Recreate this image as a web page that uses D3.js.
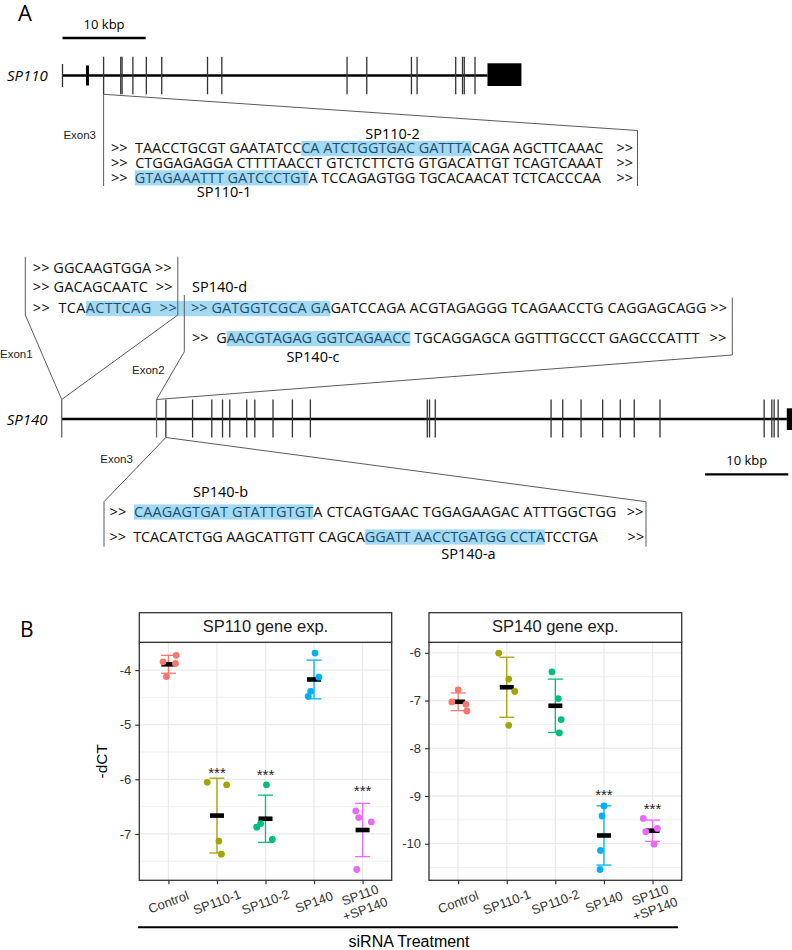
<!DOCTYPE html>
<html><head><meta charset="utf-8">
<script src="https://cdn.jsdelivr.net/npm/d3@7/dist/d3.min.js"></script>
<style>body{margin:0;background:#fff} svg{display:block}</style>
</head><body>
<svg id="fig" width="792" height="950"></svg>
<script>
// ================= DATA =================
// Panel B: qPCR -dCT values, 4 replicates per siRNA treatment
const categories = ["Control", "SP110-1", "SP110-2", "SP140", "SP110+SP140"];
const categoryLabels = [["Control"], ["SP110-1"], ["SP110-2"], ["SP140"], ["SP110", "+SP140"]];
const groupColors = ["#F8766D", "#A3A500", "#00BF7D", "#00B0F6", "#E76BF3"];

const sp110Values = [
  [-3.73, -3.85, -3.88, -4.12],
  [-6.055, -6.10, -7.13, -7.37],
  [-6.10, -6.875, -6.81, -7.10],
  [-3.69, -4.13, -4.39, -4.48],
  [-6.58, -6.70, -6.78, -7.65]
];
const sp110Jitter = [
  [0.16, -0.11, 0.145, -0.04],
  [-0.2, 0.2, 0.04, 0.09],
  [0.02, -0.18, -0.1, 0.14],
  [0.02, 0.1, -0.07, -0.12],
  [-0.14, -0.08, 0.18, -0.12]
];
const sp110Sig = ["", "***", "***", "", "***"];
const sp110SigY = [null, -5.81, -5.86, null, -6.14];
const sp110YTicks = [-7, -6, -5, -4];

const sp140Values = [
  [-6.776, -7.03, -7.08, -7.22],
  [-6.007, -6.55, -6.81, -7.52],
  [-6.40, -6.96, -7.40, -7.68],
  [-9.21, -9.42, -10.14, -10.54],
  [-9.47, -9.68, -9.75, -10.01]
];
const sp140Jitter = [
  [0, -0.13, 0.16, 0.18],
  [-0.165, 0.04, 0.165, 0.04],
  [-0.07, 0.06, 0.12, 0.08],
  [0, -0.04, -0.07, -0.08],
  [-0.19, 0.1, -0.14, 0.03]
];
const sp140Sig = ["", "", "", "***", "***"];
const sp140SigY = [null, null, null, -8.91, -9.19];
const sp140YTicks = [-10, -9, -8, -7, -6];

// Panel A: exon positions (kbp from gene start)
const sp110Exons = [0, 3.0, 4.94, 7.0, 7.16, 8.46, 10.08, 11.93, 17.43, 19.15, 34.2, 36.57, 41.94, 42.62, 47.26, 48.08, 48.29, 49.58];
const sp110LastExon = [51.08, 55.16];
const sp140Exons = [0, 11.40, 12.52, 15.73, 18.04, 19.33, 20.20, 22.24, 23.21, 25.40, 27.73, 29.89, 43.94, 44.21, 44.90, 58.82, 60.22, 62.42, 65.02, 67.14, 68.82, 71.91, 84.43, 85.35, 85.63, 86.11];
const sp140LastExon = [87.15, 88.8];
const scaleBarKbp = 10;

// Sequences ([ ] = siRNA target)
const sp110Seq = [
  ">>  TAACCTGCGT GAATATCC[CA ATCTGGTGAC GATTTA]CAGA AGCTTCAAAC",
  ">>  CTGGAGAGGA CTTTTAACCT GTCTCTTCTG GTGACATTGT TCAGTCAAAT",
  ">>  [GTAGAAATTT GATCCCTGT]A TCCAGAGTGG TGCACAACAT TCTCACCCAA"
];
const sp140Exon1Seq = [">> GGCAAGTGGA >>", ">> GACAGCAATC  >>", ">>  TCA[ACTTCAG  >>]"];
const sp140Exon2Seq = [
  "[>> GATGGTCGCA GA]GATCCAGA ACGTAGAGGG TCAGAACCTG CAGGAGCAGG >>",
  ">>  G[AACGTAGAG GGTCAGAACC] TGCAGGAGCA GGTTTGCCCT GAGCCCATTT"
];
const sp140Exon3Seq = [
  ">>  [CAAGAGTGAT GTATTGTGT]A CTCAGTGAAC TGGAGAAGAC ATTTGGCTGG",
  ">>  TCACATCTGG AAGCATTGTT CAGCA[GGATT AACCTGATGG CCTA]TCCTGA"
];

// ================= DRAWING =================
const svg = d3.select("#fig");
const SEQF = "'Open Sans', 'DejaVu Sans', sans-serif";
const ARF = "'Liberation Sans', Arial, sans-serif";
const HL = "#A3DAF2", HLTEXT = "#1d4f73", CALL = "#5a5a5a";
const SEQSIZE = 14.5;

const bgLayer = svg.append("g");
const lineLayer = svg.append("g");
const txtLayer = svg.append("g");

function txt(g, x, y, s, size, opts = {}) {
  return g.append("text").attr("x", x).attr("y", y).text(s)
    .attr("font-family", opts.family || SEQF).attr("font-size", size)
    .attr("font-style", opts.italic ? "italic" : null)
    .attr("text-anchor", opts.anchor || "start")
    .attr("fill", opts.fill || "#000");
}
function line(x1, y1, x2, y2, col = CALL, w = 1) {
  lineLayer.append("line").attr("x1", x1).attr("y1", y1).attr("x2", x2).attr("y2", y2)
    .attr("stroke", col).attr("stroke-width", w);
}
function seqRow(x, y, endX, s, extendTo) {
  let plain = "", ranges = [], st = null, segs = [], cur = "", hl = false;
  for (const ch of s) {
    if (ch === "[") { if (cur) segs.push([cur, hl]); cur = ""; hl = true; st = plain.length; }
    else if (ch === "]") { if (cur) segs.push([cur, hl]); cur = ""; hl = false; ranges.push([st, plain.length]); }
    else { plain += ch; cur += ch; }
  }
  if (cur) segs.push([cur, hl]);
  const t = txtLayer.append("text").attr("x", x).attr("y", y)
    .attr("font-family", SEQF).attr("font-size", SEQSIZE)
    .attr("textLength", endX - x).attr("lengthAdjust", "spacing")
    .style("white-space", "pre");
  segs.forEach(([str, h]) => t.append("tspan").text(str).attr("fill", h ? HLTEXT : "#111"));
  const n = t.node();
  ranges.forEach(([a, b]) => {
    const x0 = n.getStartPositionOfChar(a).x;
    let x1 = n.getEndPositionOfChar(b - 1).x;
    if (extendTo && b === plain.length) x1 = extendTo;
    bgLayer.append("rect").attr("x", x0).attr("y", y - 12.3).attr("width", x1 - x0).attr("height", 15.2).attr("fill", HL);
  });
}

// ---- Panel labels
txt(txtLayer, 18, 21, "A", 22);
txt(txtLayer, 20, 636.7, "B", 21);

// ---- SP110 gene
const PXK = 8.32;
const g110 = d3.scaleLinear().domain([0, 1]).range([62.5, 62.5 + PXK]);
const y110 = 75.5;
txt(txtLayer, 62.5 + 83.2 / 2, 29, "10 kbp", 13, { anchor: "middle" });
line(g110(0), 38, g110(scaleBarKbp), 38, "#000", 2.3);
txt(txtLayer, 7, 80.5, "SP110", 15, { italic: true });
line(g110(0), y110, g110(sp110LastExon[0]), y110, "#000", 2.5);
sp110Exons.forEach((k, i) => {
  const h = i === 0 ? 11.5 : i === 1 ? 10 : 18.8;
  line(g110(k), y110 - h, g110(k), y110 + h, i === 1 ? "#000" : "#333", i === 1 ? 3 : 1.3);
});
lineLayer.append("rect").attr("x", g110(sp110LastExon[0])).attr("y", 63.3)
  .attr("width", g110(sp110LastExon[1]) - g110(sp110LastExon[0])).attr("height", 22.7).attr("fill", "#000");
// callout exon3
{
  const ex = g110(sp110Exons[2]);
  line(ex, y110 + 18.8, ex, 186);
  line(ex, y110 + 18.8, 637.5, 130.5);
  line(637.5, 130.5, 637.5, 186);
  txt(txtLayer, 63.4, 138.5, "Exon3", 11.5, { family: ARF, fill: "#222" });
  seqRow(111, 153.3, 603.4, sp110Seq[0]);
  seqRow(111, 168.3, 603, sp110Seq[1]);
  seqRow(111, 182.6, 601, sp110Seq[2]);
  [153.3, 168.3, 182.6].forEach(yy => txt(txtLayer, 616.4, yy, ">>", SEQSIZE, { fill: "#111" }));
  txt(txtLayer, 392.5, 138.5, "SP110-2", 14.5, { anchor: "middle" });
  txt(txtLayer, 224, 197, "SP110-1", 14.5, { anchor: "middle" });
}

// ---- SP140 gene
const g140 = d3.scaleLinear().domain([0, 1]).range([61.7, 61.7 + PXK]);
const y140 = 419;
txt(txtLayer, 6.7, 424.5, "SP140", 15, { italic: true });
line(g140(0), y140, g140(sp140LastExon[0]), y140, "#000", 2.5);
sp140Exons.forEach((k, i) => {
  line(g140(k), y140 - 19.5, g140(k), y140 + 18.5, i < 2 ? "#666" : "#333", 1.3);
});
lineLayer.append("rect").attr("x", g140(sp140LastExon[0])).attr("y", 408.3)
  .attr("width", g140(sp140LastExon[1]) - g140(sp140LastExon[0])).attr("height", 21.7).attr("fill", "#000");
// scale bar
line(788.3 - scaleBarKbp * PXK, 474.3, 788.3, 474.3, "#000", 2.3);
txt(txtLayer, 746.7, 465, "10 kbp", 13, { anchor: "middle" });

// exon1 callout
{
  const ex = g140(sp140Exons[0]), top = y140 - 19.5;
  line(ex, top, 25.3, 315); line(25.3, 315, 25.3, 256.7);
  line(ex, top, 177.8, 315); line(177.8, 315, 177.8, 256.7);
  txt(txtLayer, 0, 357.5, "Exon1", 11.5, { family: ARF, fill: "#222" });
  seqRow(32.8, 272.7, 171.7, sp140Exon1Seq[0]);
  seqRow(32.8, 291.7, 172.5, sp140Exon1Seq[1]);
  seqRow(32.8, 313.3, 176.8, sp140Exon1Seq[2], 191);
}
// exon2 callout
{
  const ex = g140(sp140Exons[1]), top = y140 - 19.5;
  line(ex, top, 184.3, 351.7); line(184.3, 351.7, 184.3, 295);
  line(ex, top, 732.3, 355); line(732.3, 355, 732.3, 297.7);
  txt(txtLayer, 132, 374, "Exon2", 11.5, { family: ARF, fill: "#222" });
  txt(txtLayer, 192, 292, "SP140-d", 14.5);
  seqRow(191, 313.3, 727, sp140Exon2Seq[0]);
  seqRow(192, 343.3, 699.5, sp140Exon2Seq[1]);
  txt(txtLayer, 709.6, 343.3, ">>", SEQSIZE, { fill: "#111" });
  txt(txtLayer, 313, 362, "SP140-c", 14.5, { anchor: "middle" });
}
// exon3 callout
{
  const ex = g140(sp140Exons[2]), bot = y140 + 18.5;
  line(ex, bot, 104, 501.7); line(104, 501.7, 104, 546.7);
  line(ex, bot, 646, 501.7); line(646, 501.7, 646, 546.7);
  txt(txtLayer, 100.3, 462.5, "Exon3", 11.5, { family: ARF, fill: "#222" });
  txt(txtLayer, 220.5, 497, "SP140-b", 14.5, { anchor: "middle" });
  seqRow(109.6, 516.7, 616.4, sp140Exon3Seq[0]);
  seqRow(109.6, 541.7, 598, sp140Exon3Seq[1]);
  txt(txtLayer, 626.8, 516.7, ">>", SEQSIZE, { fill: "#111" });
  txt(txtLayer, 627.6, 541.7, ">>", SEQSIZE, { fill: "#111" });
  txt(txtLayer, 468.5, 558.5, "SP140-a", 14.5, { anchor: "middle" });
}

// ================= PANEL B =================
const stripTop = 612.7, plotTop = 642.3, plotBottom = 880.3;
const panels = [
  { title: "SP110 gene exp.", vals: sp110Values, jit: sp110Jitter, sig: sp110Sig, sigY: sp110SigY, ticks: sp110YTicks, x0: 139.3, x1: 391.7 },
  { title: "SP140 gene exp.", vals: sp140Values, jit: sp140Jitter, sig: sp140Sig, sigY: sp140SigY, ticks: sp140YTicks, x0: 429, x1: 681.7 }
];
const pg = svg.append("g");
panels.forEach(p => {
  const stats = p.vals.map(v => ({ m: d3.mean(v), sd: d3.deviation(v) }));
  const all = p.vals.flat().concat(stats.flatMap(s => [s.m - s.sd, s.m + s.sd]));
  const [lo, hi] = d3.extent(all), pad = (hi - lo) * 0.05;
  const y = d3.scaleLinear().domain([lo - pad, hi + pad]).range([plotBottom, plotTop]);
  const x = d3.scalePoint().domain(categories).range([p.x0, p.x1]).padding(0.6);
  const g = pg.append("g");
  g.append("rect").attr("x", p.x0).attr("y", plotTop).attr("width", p.x1 - p.x0).attr("height", plotBottom - plotTop).attr("fill", "#fff");
  // minor grid
  const [d0, d1] = y.domain();
  const minor = d3.range(Math.ceil(d0 * 2) / 2, d1, 0.5).filter(v => Math.abs(v - Math.round(v)) > 0.1);
  g.selectAll(".mn").data(minor).join("line").attr("x1", p.x0).attr("x2", p.x1)
    .attr("y1", d => y(d)).attr("y2", d => y(d)).attr("stroke", "#EBEBEB").attr("stroke-width", 0.7);
  g.selectAll(".mj").data(p.ticks).join("line").attr("x1", p.x0).attr("x2", p.x1)
    .attr("y1", d => y(d)).attr("y2", d => y(d)).attr("stroke", "#EBEBEB").attr("stroke-width", 1.3);
  g.selectAll(".vx").data(categories).join("line").attr("y1", plotTop).attr("y2", plotBottom)
    .attr("x1", d => x(d)).attr("x2", d => x(d)).attr("stroke", "#EBEBEB").attr("stroke-width", 1.3);
  // error bars
  const cw = 7.5;
  categories.forEach((c, i) => {
    const s = stats[i], col = groupColors[i], cx = x(c);
    const eg = g.append("g").attr("stroke", col).attr("stroke-width", 1.3);
    eg.append("line").attr("x1", cx).attr("x2", cx).attr("y1", y(s.m + s.sd)).attr("y2", y(s.m - s.sd));
    eg.append("line").attr("x1", cx - cw).attr("x2", cx + cw).attr("y1", y(s.m + s.sd)).attr("y2", y(s.m + s.sd));
    eg.append("line").attr("x1", cx - cw).attr("x2", cx + cw).attr("y1", y(s.m - s.sd)).attr("y2", y(s.m - s.sd));
  });
  // mean bars
  g.selectAll(".mb").data(stats).join("rect").attr("x", (d, i) => x(categories[i]) - 7)
    .attr("y", d => y(d.m) - 2.3).attr("width", 14).attr("height", 4.6).attr("fill", "#000");
  // points
  categories.forEach((c, i) => {
    g.selectAll(null).data(p.vals[i]).join("circle")
      .attr("cx", (d, j) => x(c) + p.jit[i][j] * x.step()).attr("cy", d => y(d))
      .attr("r", 3.4).attr("fill", groupColors[i]);
  });
  // significance
  categories.forEach((c, i) => {
    if (!p.sig[i]) return;
    g.append("text").attr("x", x(c)).attr("y", y(p.sigY[i]) + 8.7).text(p.sig[i])
      .attr("text-anchor", "middle").attr("font-family", ARF).attr("font-size", 15).attr("fill", "#222");
  });
  // border
  g.append("rect").attr("x", p.x0).attr("y", plotTop).attr("width", p.x1 - p.x0).attr("height", plotBottom - plotTop)
    .attr("fill", "none").attr("stroke", "#333").attr("stroke-width", 1.3);
  // strip
  g.append("rect").attr("x", p.x0).attr("y", stripTop).attr("width", p.x1 - p.x0).attr("height", plotTop - stripTop)
    .attr("fill", "#fff").attr("stroke", "#333").attr("stroke-width", 1.3);
  g.append("text").attr("x", (p.x0 + p.x1) / 2).attr("y", 632).text(p.title)
    .attr("text-anchor", "middle").attr("font-family", ARF).attr("font-size", 16.5).attr("fill", "#1a1a1a");
  // y axis
  const ya = g.append("g").attr("transform", `translate(${p.x0},0)`)
    .call(d3.axisLeft(y).tickValues(p.ticks).tickSize(4).tickPadding(4).tickFormat(d => String(d)));
  ya.select(".domain").remove();
  ya.selectAll("line").attr("stroke", "#333").attr("stroke-width", 1.2);
  ya.selectAll("text").attr("font-family", ARF).attr("font-size", 13).attr("fill", "#333");
  // x axis
  const xa = g.append("g").attr("transform", `translate(0,${plotBottom})`)
    .call(d3.axisBottom(x).tickSize(4).tickFormat(""));
  xa.select(".domain").remove();
  xa.selectAll("line").attr("stroke", "#333").attr("stroke-width", 1.2);
  categories.forEach((c, i) => {
    const lines = categoryLabels[i];
    const lg = g.append("g").attr("transform", `translate(${x(c)},902) rotate(-20)`);
    lines.forEach((L, k) => {
      lg.append("text").attr("x", 0).attr("y", (k - (lines.length - 1) / 2) * 15).attr("dy", "0.35em")
        .text(L).attr("text-anchor", "middle").attr("font-family", ARF).attr("font-size", 13).attr("fill", "#333");
    });
  });
});
// y title
svg.append("text").attr("transform", "translate(101.7,761.3) rotate(-90)").attr("dy", "0.35em")
  .text("-dCT").attr("text-anchor", "middle").attr("font-family", ARF).attr("font-size", 15.5).attr("fill", "#000");
// treatment line + title
svg.append("line").attr("x1", 138).attr("x2", 678).attr("y1", 927.3).attr("y2", 927.3).attr("stroke", "#000").attr("stroke-width", 2);
svg.append("text").attr("x", 409).attr("y", 947).text("siRNA Treatment")
  .attr("text-anchor", "middle").attr("font-family", ARF).attr("font-size", 16).attr("fill", "#000");
</script>
</body></html>
